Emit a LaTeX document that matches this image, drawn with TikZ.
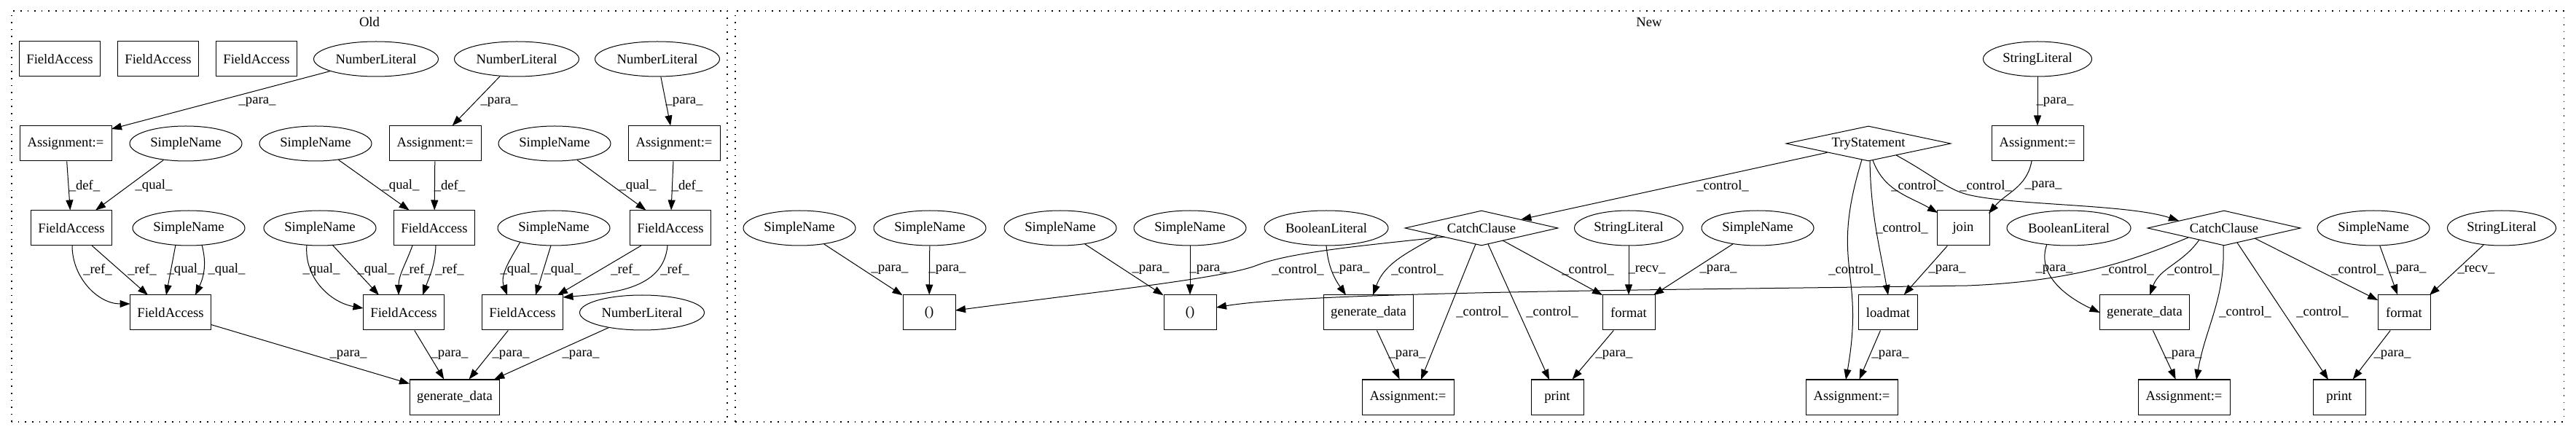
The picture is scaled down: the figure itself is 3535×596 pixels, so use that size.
\documentclass[tikz,border=0pt]{standalone}
\usepackage{fontspec}
\setmainfont{Liberation Serif}
\usetikzlibrary{shapes.geometric,arrows.meta,calc}
\newcommand\fsz{\fontsize{14pt}{16.8pt}\selectfont}
\begin{document}
\begin{tikzpicture}[x=0.75pt,y=0.75pt,
  nbase/.style={draw,line width=0.75pt,inner sep=0pt,minimum height=36pt,font=\fsz},
  box/.style={nbase,rectangle,minimum width=#1},
  ell/.style={nbase,ellipse,minimum width=#1},
  dia/.style={nbase,diamond,aspect=5,minimum width=#1},
  lab/.style={inner sep=0pt,font=\fsz},
  conn/.style={line width=0.75pt,-{Triangle[length=10.5pt,width=7.5pt]}},
  grp/.style={draw,line width=0.8pt,dash pattern=on 1.2pt off 6pt},
]
\useasboundingbox (0,0) rectangle (3535,596);
% frames
\draw[grp] (16,17) rectangle (998,581);
\node[lab] (oldl) at (507,566) {Old};
\draw[grp] (1009,17) rectangle (3518,581);
\node[lab] (newl) at (2263,566) {New};

% ---------------- Old ----------------
\node[box=83.25pt] (fa1) at (82,515) {FieldAccess};
\node[box=83.25pt] (fa2) at (217,515) {FieldAccess};
\node[box=83.25pt] (fa3) at (352,515) {FieldAccess};
\node[ell=128.25pt] (nl1) at (516,515) {NumberLiteral};
\node[ell=128.25pt] (nl2) at (709,515) {NumberLiteral};
\node[ell=128.25pt] (nl3) at (902,515) {NumberLiteral};

\node[box=94.5pt] (as1) at (90,399) {Assignment:=};
\node[ell=115.5pt] (sn1) at (255,399) {SimpleName};
\node[ell=115.5pt] (sn2) at (433,399) {SimpleName};
\node[box=94.5pt] (as2) at (597,399) {Assignment:=};
\node[ell=115.5pt] (sn3) at (761,399) {SimpleName};
\node[box=94.5pt] (as3) at (925,399) {Assignment:=};

\node[box=83.25pt] (fb1) at (98,283) {FieldAccess};
\node[ell=115.5pt] (sn4) at (259,283) {SimpleName};
\node[ell=115.5pt] (sn5) at (439,283) {SimpleName};
\node[box=83.25pt] (fb2) at (596,283) {FieldAccess};
\node[ell=115.5pt] (sn6) at (760,283) {SimpleName};
\node[box=83.25pt] (fb3) at (920,283) {FieldAccess};

\node[box=83.25pt] (fc1) at (234,167) {FieldAccess};
\node[box=83.25pt] (fc2) at (554,167) {FieldAccess};
\node[box=83.25pt] (fc3) at (717,167) {FieldAccess};
\node[ell=128.25pt] (nl4) at (881,167) {NumberLiteral};

\node[box=92.25pt] (gd0) at (624,51) {generate\_data};

\draw[conn] (nl1) -- ($(as1)+(63,20)$) node[lab] at (353,456) {\_para\_};
\draw[conn] (nl2) -- (as2) node[lab] at (685,456) {\_para\_};
\draw[conn] (nl3) -- (as3) node[lab] at (939,456) {\_para\_};
\draw[conn] (as1) -- (fb1) node[lab] at (116,341) {\_def\_};
\draw[conn] (sn1) -- (fb1) node[lab] at (211,341) {\_qual\_};
\draw[conn] (sn2) -- (fb2) node[lab] at (550,341) {\_qual\_};
\draw[conn] (as2) -- (fb2) node[lab] at (617,341) {\_def\_};
\draw[conn] (sn3) -- (fb3) node[lab] at (875,341) {\_qual\_};
\draw[conn] (as3) -- (fb3) node[lab] at (943,341) {\_def\_};

\draw[conn] ($(fb1)+(1,-24)$) to[out=-90,in=180] ($(fc1)+(-55.5,12)$) node[lab] at (134,226) {\_ref\_};
\draw[conn] ($(fb1)+(28,-24)$) -- ($(fc1)+(-31,24)$) node[lab] at (195,226) {\_ref\_};
\draw[conn] ($(sn4)+(-18,-23)$) -- ($(fc1)+(-6,24)$) node[lab] at (255,226) {\_qual\_};
\draw[conn] ($(sn4)+(18,-23)$) to[out=-75,in=65] ($(fc1)+(34,24)$) node[lab] at (311,226) {\_qual\_};
\draw[conn] ($(sn5)+(-18,-23)$) to[out=-95,in=170] ($(fc2)+(-55.5,6)$) node[lab] at (441,226) {\_qual\_};
\draw[conn] ($(sn5)+(17,-23)$) -- ($(fc2)+(-34,24)$) node[lab] at (516,226) {\_qual\_};
\draw[conn] ($(fb2)+(-30,-24)$) to[out=-110,in=90] ($(fc2)+(-7,24)$) node[lab] at (572,226) {\_ref\_};
\draw[conn] ($(fb2)+(2,-24)$) to[out=-92,in=70] ($(fc2)+(26,24)$) node[lab] at (617,226) {\_ref\_};
\draw[conn] ($(sn6)+(-46,-19)$) to[out=-120,in=110] ($(fc3)+(-21,24)$) node[lab] at (712,226) {\_qual\_};
\draw[conn] ($(sn6)+(-4,-24)$) -- ($(fc3)+(18,24)$) node[lab] at (772,226) {\_qual\_};
\draw[conn] ($(fb3)+(-40,-24)$) -- ($(fc3)+(48,24)$) node[lab] at (858,226) {\_ref\_};
\draw[conn] ($(fb3)+(-4,-24)$) to[out=-95,in=5] ($(fc3)+(55.5,21)$) node[lab] at (926,226) {\_ref\_};

\draw[conn] (fc1) -- (gd0) node[lab] at (478,109) {\_para\_};
\draw[conn] (fc2) -- (gd0) node[lab] at (617,109) {\_para\_};
\draw[conn] (fc3) -- (gd0) node[lab] at (701,109) {\_para\_};
\draw[conn] (nl4) -- (gd0) node[lab] at (797,109) {\_para\_};

% ---------------- New ----------------
\node[ell=111.75pt] (sl1) at (2796,515) {StringLiteral};
\node[dia=169.5pt] (try) at (2564,399) {TryStatement};
\node[box=94.5pt] (as4) at (2796,399) {Assignment:=};

\node[ell=115.5pt] (sn7) at (1097,283) {SimpleName};
\node[ell=115.5pt] (sn8) at (1276,283) {SimpleName};
\node[ell=115.5pt] (sn9) at (1455,283) {SimpleName};
\node[ell=115.5pt] (sn10) at (1633,283) {SimpleName};
\node[ell=127.5pt] (bl1) at (1820,283) {BooleanLiteral};
\node[dia=157.5pt] (cc1) at (2033,283) {CatchClause};
\node[ell=111.75pt] (sl2) at (2235,283) {StringLiteral};
\node[ell=115.5pt] (sn11) at (2412,283) {SimpleName};
\node[box=54pt] (join) at (2694,283) {join};
\node[ell=127.5pt] (bl2) at (2839,283) {BooleanLiteral};
\node[dia=157.5pt] (cc2) at (3052,283) {CatchClause};
\node[ell=115.5pt] (sn12) at (3257,283) {SimpleName};
\node[ell=111.75pt] (sl3) at (3433,283) {StringLiteral};

\node[box=54pt] (par1) at (1275,167) {()};
\node[box=54pt] (par2) at (1633,167) {()};
\node[box=92.25pt] (gd1) at (1878,167) {generate\_data};
\node[box=54pt] (fmt1) at (2235,167) {format};
\node[box=60.75pt] (loadmat) at (2591,167) {loadmat};
\node[box=92.25pt] (gd2) at (2943,167) {generate\_data};
\node[box=54pt] (fmt2) at (3299,167) {format};

\node[box=94.5pt] (as5) at (1932,51) {Assignment:=};
\node[box=54pt] (pr1) at (2137,51) {print};
\node[box=94.5pt] (as6) at (2541,51) {Assignment:=};
\node[box=94.5pt] (as7) at (2997,51) {Assignment:=};
\node[box=54pt] (pr2) at (3210,51) {print};

\draw[conn] (sl1) -- (as4) node[lab] at (2820,456) {\_para\_};
\draw[conn] ($(as4)+(-8,-24)$) to[out=-100,in=50] ($(join)+(35,20)$) node[lab] at (2804,341) {\_para\_};
\draw[conn] ($(try)+(6,-23)$) to[out=-70,in=150] ($(join)+(-35,21)$) node[lab] at (2631,341) {\_control\_};
\draw[conn] ($(try)+(2,-24)$) to[out=-89,in=100] ($(loadmat)+(0,24)$) node[lab] at (2610,283) {\_control\_};
\draw[conn] ($(try)+(-9,-22)$) to[out=-107,in=80,looseness=1.3] ($(as6)+(-8,24)$) node[lab] at (2545,226) {\_control\_};
\draw[conn] (try) -- (cc1) node[lab] at (2364,341) {\_control\_};
\draw[conn] ($(try)+(38,-16)$) .. controls (2650,357) and (2672,336) .. (2700,329) .. controls (2760,314) and (2920,316) .. ($(cc2)+(-62,10)$) node[lab] at (2725,341) {\_control\_};
\draw[conn] (join) -- (loadmat) node[lab] at (2672,226) {\_para\_};
\draw[conn] (loadmat) -- (as6) node[lab] at (2594,109) {\_para\_};

\draw[conn] (sn7) -- (par1) node[lab] at (1221,226) {\_para\_};
\draw[conn] (sn8) -- (par1) node[lab] at (1300,226) {\_para\_};
\draw[conn] (sn9) -- (par2) node[lab] at (1579,226) {\_para\_};
\draw[conn] (sn10) -- (par2) node[lab] at (1658,226) {\_para\_};

\draw[conn] ($(cc1)+(-51,-12)$) .. controls (1880,260) and (1770,250) .. (1725,232) .. controls (1680,214) and (1500,195) .. ($(par1)+(36,3)$) node[lab] at (1781,226) {\_control\_};
\draw[conn] ($(bl1)+(0,-24)$) to[out=-85,in=125] ($(gd1)+(-31,24)$) node[lab] at (1854,226) {\_para\_};
\draw[conn] ($(cc1)+(-60,-10)$) to[out=-150,in=70] ($(gd1)+(6,24)$) node[lab] at (1945,226) {\_control\_};
\draw[conn] ($(cc1)+(-8,-22)$) -- ($(as5)+(18,24)$) node[lab] at (2034,168) {\_control\_};
\draw[conn] ($(cc1)+(9,-22)$) -- ($(pr1)+(-11,24)$) node[lab] at (2130,168) {\_control\_};
\draw[conn] ($(cc1)+(29,-17)$) -- ($(fmt1)+(-36,24)$) node[lab] at (2179,226) {\_control\_};
\draw[conn] (sl2) -- (fmt1) node[lab] at (2260,226) {\_recv\_};
\draw[conn] (sn11) -- ($(fmt1)+(34,24)$) node[lab] at (2358,226) {\_para\_};
\draw[conn] (fmt1) -- (pr1) node[lab] at (2215,109) {\_para\_};
\draw[conn] (gd1) -- (as5) node[lab] at (1931,109) {\_para\_};

\draw[conn] ($(cc2)+(-49,-13)$) .. controls (2930,240) and (2850,210) .. (2700,204) .. controls (2300,198) and (1800,196) .. ($(par2)+(36,7)$) node[lab] at (2920,226) {\_control\_};
\draw[conn] ($(bl2)+(-30,-22)$) to[out=-110,in=155] ($(gd2)+(-61.5,0)$) node[lab] at (2819,226) {\_para\_};
\draw[conn] ($(cc2)+(-34,-16)$) to[out=-125,in=70] ($(gd2)+(7,24)$) node[lab] at (3010,226) {\_control\_};
\draw[conn] ($(cc2)+(-1,-24)$) to[out=-88,in=80] ($(as7)+(17,24)$) node[lab] at (3081,168) {\_control\_};
\draw[conn] ($(cc2)+(18,-20)$) -- ($(pr2)+(-15,24)$) node[lab] at (3187,168) {\_control\_};
\draw[conn] ($(cc2)+(42,-14)$) -- ($(fmt2)+(-36,17)$) node[lab] at (3235,226) {\_control\_};
\draw[conn] (sn12) -- (fmt2) node[lab] at (3304,226) {\_para\_};
\draw[conn] (sl3) -- ($(fmt2)+(35,24)$) node[lab] at (3398,226) {\_recv\_};
\draw[conn] (fmt2) -- (pr2) node[lab] at (3283,109) {\_para\_};
\draw[conn] (gd2) -- (as7) node[lab] at (2996,109) {\_para\_};
\end{tikzpicture}
\end{document}
